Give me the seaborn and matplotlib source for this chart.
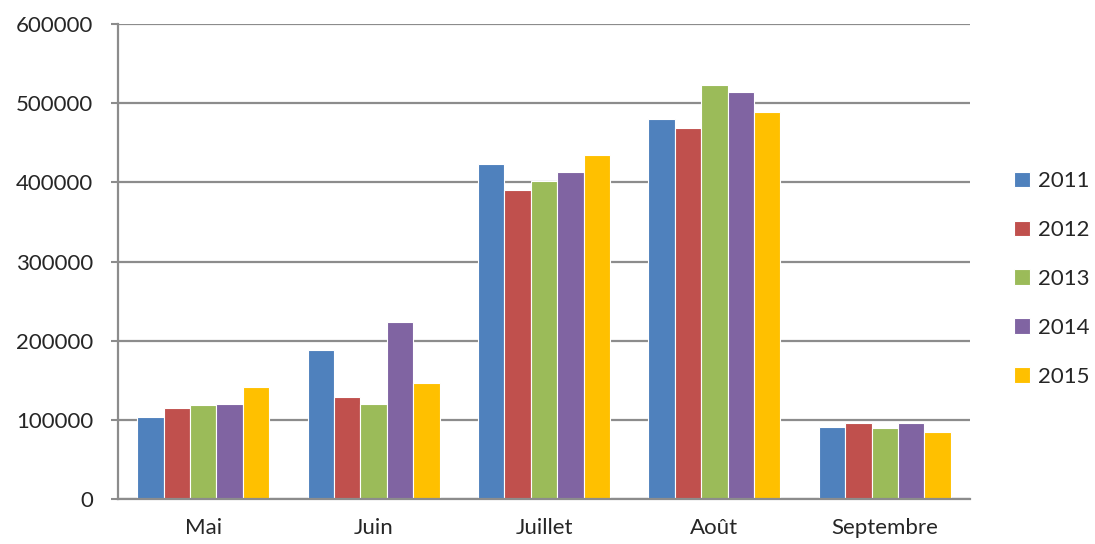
import matplotlib
matplotlib.use("Agg")
import matplotlib.pyplot as plt
import seaborn as sns
import pandas as pd

# Values
months = ['Mai', 'Juin', 'Juillet', 'Août', 'Septembre']
years = ['2011', '2012', '2013', '2014', '2015']
v2011 = [103000, 188500, 423000, 479500, 91000]
v2012 = [115000, 128500, 390500, 468500, 96000]
v2013 = [118500, 120000, 401500, 522500, 89500]
v2014 = [120500, 223000, 412500, 513500, 96000]
v2015 = [141000, 147000, 434000, 488500, 85000]

colors = ['#4F81BD', '#C0504D', '#9BBB59', '#8064A2', '#FFC000']

rows = []
for year, vals in zip(years, [v2011, v2012, v2013, v2014, v2015]):
    for m, v in zip(months, vals):
        rows.append({'Mois': m, 'Année': year, 'Valeur': v})
df = pd.DataFrame(rows)

sns.set_style('white')
plt.rcParams['font.family'] = ['Lato', 'DejaVu Sans']
plt.rcParams['font.size'] = 16

fig = plt.figure(figsize=(10.95, 5.44), dpi=100)
ax = fig.add_axes([118 / 1095, 45 / 544, 852 / 1095, 475 / 544])

sns.barplot(data=df, x='Mois', y='Valeur', hue='Année', order=months,
            hue_order=years, palette=colors, saturation=1, width=0.775, ax=ax,
            edgecolor='white', linewidth=0.8, errorbar=None, legend=True)

ax.set_ylim(0, 600000)
ax.set_yticks(range(0, 600001, 100000))
ax.set_yticklabels([str(v) for v in range(0, 600001, 100000)])
ax.set_xlim(-0.5, len(months) - 0.5)
ax.yaxis.grid(True, color='#8C8C8C', linewidth=1.6)
ax.set_axisbelow(True)
ax.set_xlabel('')
ax.set_ylabel('')

for side in ['top', 'right']:
    ax.spines[side].set_visible(False)
for side in ['left', 'bottom']:
    ax.spines[side].set_color('#8C8C8C')
    ax.spines[side].set_linewidth(1.6)

ax.tick_params(axis='y', which='major', left=True, length=5, width=1.5,
               color='#8C8C8C', labelsize=16, pad=13)
ax.tick_params(axis='x', bottom=False, labelsize=16, pad=10)

handles, labels = ax.get_legend_handles_labels()
ax.get_legend().remove()
fig.legend(handles, labels, loc='center left',
           bbox_to_anchor=(1014 / 1095, (544 - 279) / 544),
           frameon=False, fontsize=16, handlelength=0.7, handleheight=0.7,
           labelspacing=1.3, handletextpad=0.4, borderpad=0, borderaxespad=0)

fig.savefig('out.png', dpi=100, facecolor='white')
